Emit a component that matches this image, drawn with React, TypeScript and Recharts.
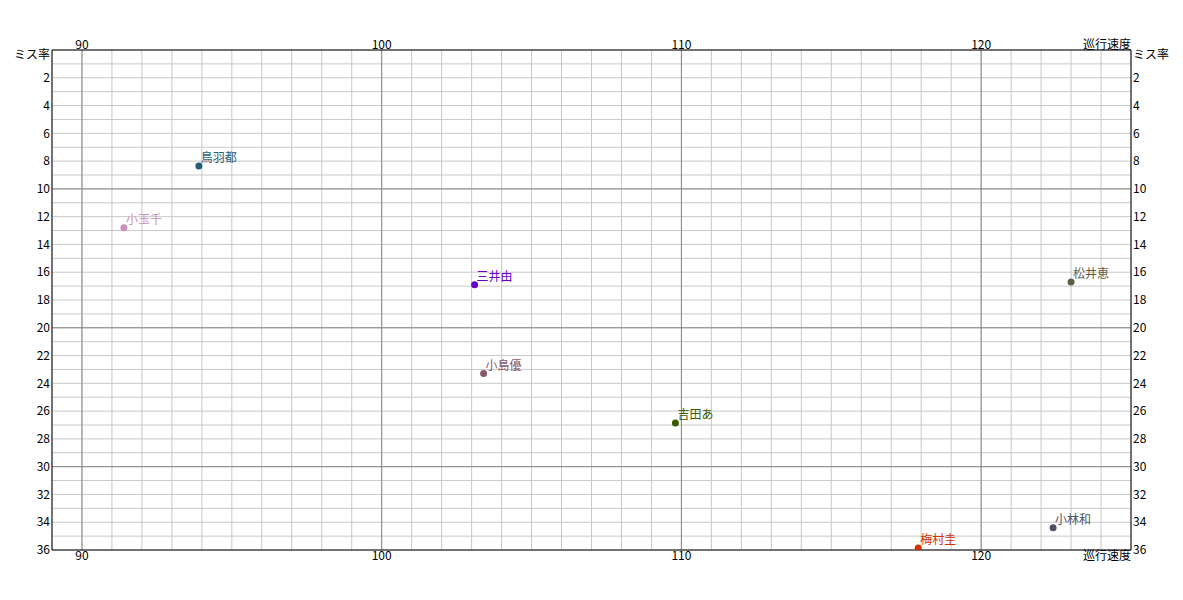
import React from 'react';
import {
  ScatterChart,
  Scatter,
  XAxis,
  YAxis,
  CartesianGrid,
  Cell,
} from 'recharts';

const names = ['鳥羽都', '小玉千', '三井由', '小島優', '吉田あ', '松井恵', '小林和', '梅村圭'];
const speeds = [93.9, 91.4, 103.1, 103.4, 109.8, 123.0, 122.4, 117.9];
const missRates = [8.35, 12.8, 16.9, 23.3, 26.85, 16.7, 34.4, 35.85];
const colors = ['#1f5f7a', '#c890b8', '#6600cc', '#885868', '#3a5a00', '#606048', '#505060', '#cc3300'];

const xTicks = [90, 100, 110, 120, 125];
const yTicks = [0, 2, 4, 6, 8, 10, 12, 14, 16, 18, 20, 22, 24, 26, 28, 30, 32, 34, 36];
const xMajor = [90, 100, 110, 120];
const yMajor = [10, 20, 30];
const xMinor = Array.from({ length: 37 }, (_, i) => 89 + i);
const yMinor = Array.from({ length: 37 }, (_, i) => i);

const xLabel = '巡行速度';
const yLabel = 'ミス率';
const FONT = '"Noto Sans CJK JP", sans-serif';

const points = names.map((name, i) => ({
  name,
  speed: speeds[i],
  miss: missRates[i],
  color: colors[i],
}));

const XTick = (props: any) => {
  const { x, y, payload, orientation } = props;
  const last = payload.value === 125;
  const text = last ? xLabel : String(payload.value);
  const baseY = orientation === 'top' ? y : y + 10;
  return (
    <text
      x={x}
      y={baseY}
      textAnchor={last ? 'end' : 'middle'}
      fontSize={12}
      fontFamily={FONT}
      fill="#000"
    >
      {text}
    </text>
  );
};

const YTick = (props: any) => {
  const { x, y, payload, textAnchor } = props;
  const top = payload.value === 0;
  return (
    <text
      x={x}
      y={y + (top ? 5 : 0)}
      dy="0.35em"
      textAnchor={textAnchor}
      fontSize={12}
      fontFamily={FONT}
      fill="#000"
    >
      {top ? yLabel : payload.value}
    </text>
  );
};

const Dot = (props: any) => {
  const { cx, cy, payload } = props;
  return (
    <g>
      <circle cx={cx} cy={cy} r={3.5} fill={payload.color} />
      <text x={cx + 2} y={cy - 4} fontSize={12} fontFamily={FONT} fill={payload.color}>
        {payload.name}
      </text>
    </g>
  );
};

export default function App() {
  return (
    <div style={{ position: 'absolute', left: 0, top: 0, background: '#fff' }}>
      <ScatterChart width={1183} height={600} margin={{ top: 0, right: 0, bottom: 0, left: 0 }}>
        <CartesianGrid
          stroke="#c8c8c8"
          verticalValues={xMinor}
          horizontalValues={yMinor}
        />
        <CartesianGrid
          stroke="#888888"
          verticalValues={xMajor}
          horizontalValues={yMajor}
        />
        <XAxis
          type="number"
          dataKey="speed"
          domain={[89, 125]}
          allowDataOverflow
          ticks={xTicks}
          orientation="bottom"
          height={50}
          tickSize={0}
          tickMargin={0}
          tick={<XTick orientation="bottom" />}
          axisLine={{ stroke: '#000' }}
          interval={0}
        />
        <XAxis
          xAxisId="top"
          type="number"
          dataKey="speed"
          domain={[89, 125]}
          allowDataOverflow
          ticks={xTicks}
          orientation="top"
          height={50}
          tickSize={0}
          tickMargin={1}
          tick={<XTick orientation="top" />}
          axisLine={{ stroke: '#000' }}
          interval={0}
        />
        <YAxis
          type="number"
          dataKey="miss"
          domain={[0, 36]}
          reversed
          allowDataOverflow
          ticks={yTicks}
          width={52}
          tickSize={0}
          tickMargin={2}
          tick={<YTick />}
          axisLine={{ stroke: '#000' }}
          interval={0}
        />
        <YAxis
          yAxisId="right"
          orientation="right"
          type="number"
          dataKey="miss"
          domain={[0, 36]}
          reversed
          allowDataOverflow
          ticks={yTicks}
          width={52}
          tickSize={0}
          tickMargin={2}
          tick={<YTick />}
          axisLine={{ stroke: '#000' }}
          interval={0}
        />
        <Scatter data={points} isAnimationActive={false} shape={<Dot />}>
          {points.map((p) => (
            <Cell key={p.name} fill={p.color} />
          ))}
        </Scatter>
      </ScatterChart>
    </div>
  );
}
